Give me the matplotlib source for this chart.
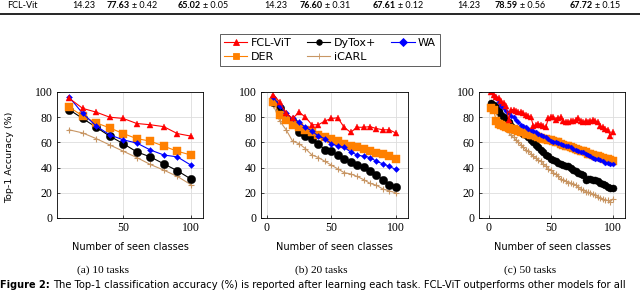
import numpy as np
import matplotlib
matplotlib.use("Agg")
import matplotlib.pyplot as plt
from matplotlib.lines import Line2D

# ---------------------------------------------------------------------------
# data
# ---------------------------------------------------------------------------
x10 = [10, 20, 30, 40, 50, 60, 70, 80, 90, 100]
fcl10 = [95, 87, 84, 80, 79, 75, 74, 72.5, 67, 65]
dytox10 = [86, 79, 72, 65, 59, 52.5, 48.5, 43, 37.5, 31]
wa10 = [96, 83, 73, 66, 62, 59.5, 54, 50, 48.5, 42]
der10 = [88, 81, 75.5, 71.5, 67, 63, 61, 57, 53, 50]
icarl10 = [70, 67.5, 63, 58, 53, 48, 42.5, 38, 33, 26.5]

x20 = [5, 10, 15, 20, 25, 30, 35, 40, 45, 50, 55, 60, 65, 70, 75, 80, 85, 90, 95, 100]
fcl20 = [98, 92, 83, 79, 84, 80, 74, 74, 77, 79, 79.5, 72, 68, 72, 72, 72.5, 71, 70, 70, 67.5]
dytox20 = [92, 87, 79, 76, 68, 65, 62.5, 59, 54, 53, 50, 46.5, 44.5, 42, 40.5, 37.5, 34, 30.5, 26.5, 25]
wa20 = [96, 89, 83, 79, 76, 72, 69, 65, 63, 59, 57, 56, 52.5, 50, 49, 48, 45, 43, 41, 38.5]
der20 = [92, 82, 78, 74, 72, 70, 68, 66, 64.5, 62.5, 61, 59, 57.5, 56.5, 55, 53, 51.5, 50.5, 49, 47]
icarl20 = [90, 77, 70, 61, 59, 55, 50, 48, 45, 42, 39, 36, 35, 33, 30.5, 27.5, 26, 23, 21.5, 20]

x50 = list(range(2, 101, 2))
fcl50 = [100, 98, 96, 95, 93, 91, 89, 78, 86, 86,
         85, 84, 84, 83, 82, 81, 80, 73, 74, 75,
         74, 73, 72, 79, 80, 80, 78, 79, 80, 77,
         76, 76, 77, 77, 78, 79, 77, 76, 77, 76,
         77, 78, 77, 76, 73, 72, 71, 70, 65, 68]
dytox50 = [91, 90, 88, 85, 82, 80, 78, 76, 73, 71,
           70, 69, 68, 67, 66, 64, 62, 60, 58, 56,
           54, 52, 50, 49, 47, 46, 45, 44, 43, 42,
           41.5, 41, 40, 38, 37, 36, 35, 34, 30.5, 31,
           31, 30.5, 30, 29, 28, 27, 26, 25, 24, 24]
wa50 = [100, 97, 95, 92, 89, 87, 85, 83, 81, 80,
        78, 76, 74, 73, 72, 71, 70, 69, 68, 67,
        66, 65, 64, 63, 61, 60.5, 60, 59.5, 59, 58,
        57.5, 57, 56, 55, 54, 53, 52.5, 52, 51, 50,
        49, 48, 47, 46.5, 46, 45, 44, 43.5, 43, 42.5]
der50 = [87, 86, 77, 75, 74, 73, 72, 71.5, 71, 70.5,
         70, 69, 68.5, 68, 67, 66.5, 66, 65.5, 65, 64,
         63.5, 63, 62.5, 62, 62, 61, 60.5, 60, 59, 58,
         57.5, 57, 56, 55.5, 55, 54, 53.5, 53, 52, 51,
         50.5, 50, 49.5, 49, 48.5, 48, 47, 46.5, 46, 45.5]
icarl50 = [91, 87, 84, 80, 77, 74, 71, 68, 66, 64,
           62, 60, 58, 56, 54, 53, 51, 49, 47.5, 46,
           45, 43, 41, 39, 38, 36, 35, 33, 31, 30,
           29, 28, 28, 27, 26, 25, 23, 22, 21, 20.5,
           20, 19, 18, 17, 16, 15, 14, 14, 13, 15]

subcaptions = ["(a) 10 tasks", "(b) 20 tasks", "(c) 50 tasks"]

# table row that sits above the figure (cropped)
row_name = "FCL-Vit"
row_mem = "14.23"
row_acc = [("77.63", "0.42"), ("65.02", "0.05"), ("76.60", "0.31"),
           ("67.61", "0.12"), ("78.59", "0.56"), ("67.72", "0.15")]

caption = ("The Top-1 classification accuracy (%) is reported after learning each task. "
           "FCL-ViT outperforms other models for all")

# ---------------------------------------------------------------------------
# styling
# ---------------------------------------------------------------------------
W, H = 640, 291
SANS = "DejaVu Sans"
SERIF = "Liberation Serif"

styles = {
    "FCL-ViT": dict(color="#ff0000", marker="^", ms=4.5),
    "DyTox+": dict(color="black", marker="o", ms=6),
    "WA": dict(color="#0000ff", marker="D", ms=3),
    "DER": dict(color="#ff8000", marker="s", ms=6),
    "iCARL": dict(color="#c89664", marker="+", ms=5),
}

panels = [
    (x10, {"FCL-ViT": fcl10, "DyTox+": dytox10, "WA": wa10, "DER": der10, "iCARL": icarl10}),
    (x20, {"FCL-ViT": fcl20, "DyTox+": dytox20, "WA": wa20, "DER": der20, "iCARL": icarl20}),
    (x50, {"FCL-ViT": fcl50, "DyTox+": dytox50, "WA": wa50, "DER": der50, "iCARL": icarl50}),
]
# pixel boxes (left, right) and x limits of each panel
boxes = [(57, 203), (261, 408), (479, 625)]
xlims = [(1, 109), (-4.5, 109.5), (-7.8, 109.8)]
xticks = [[50, 100], [0, 50, 100], [0, 50, 100]]
sub_x = [103, 321, 530]

fig = plt.figure(figsize=(W / 100, H / 100), dpi=100)

top, bot = 92, 218
draw_order = ["iCARL", "DyTox+", "DER", "WA", "FCL-ViT"]
for i, ((xs, series), (l, r)) in enumerate(zip(panels, boxes)):
    ax = fig.add_axes([l / W, 1 - bot / H, (r - l) / W, (bot - top) / H])
    for name in draw_order:
        st = styles[name]
        ms = st["ms"] if i < 2 else st["ms"] * 0.85
        ax.plot(xs, series[name], color=st["color"], marker=st["marker"],
                markersize=ms, linewidth=0.8,
                markeredgewidth=0.8 if st["marker"] == "+" else 0.3,
                markeredgecolor=st["color"], label=name)
    ax.set_xlim(*xlims[i])
    ax.set_ylim(0, 100)
    ax.set_xticks(xticks[i])
    ax.set_yticks([0, 20, 40, 60, 80, 100])
    ax.grid(True, color="#dddddd", linewidth=0.6)
    ax.set_axisbelow(True)
    ax.tick_params(direction="in", length=2.5, width=0.5, labelsize=8.5, pad=3)
    for lab in ax.get_xticklabels() + ax.get_yticklabels():
        lab.set_fontfamily(SERIF)
    for sp in ax.spines.values():
        sp.set_linewidth(0.6)
    fig.text((l + r) / 2 / W, 1 - 247 / H, "Number of seen classes",
             fontsize=7, family=SANS, ha="center", va="center")
    fig.text(sub_x[i] / W, 1 - 270 / H, subcaptions[i], fontsize=8.2,
             family=SERIF, ha="center", va="center")

fig.text(10 / W, 1 - 157 / H, "Top-1 Accuracy (%)", fontsize=6.8, family=SANS,
         rotation=90, ha="center", va="center")

# legend
order = ["FCL-ViT", "DER", "DyTox+", "iCARL", "WA"]
handles = [Line2D([], [], color=styles[n]["color"], marker=styles[n]["marker"],
                  markersize=4, linewidth=0.8, markeredgewidth=0.6) for n in order]
leg = fig.legend(handles, order, ncol=3, loc="center", bbox_to_anchor=(330 / W, 1 - 50 / H),
                 fancybox=False, edgecolor="#444444", framealpha=1,
                 prop={"family": SANS, "size": 8}, handlelength=2.1,
                 handletextpad=0.3, columnspacing=1.4, labelspacing=0.4,
                 borderpad=0.35)
leg.get_frame().set_linewidth(0.6)

# table row at the top (cut off in the crop)
ty = 1 - 6 / H
tfont = dict(fontsize=6.5, family="Lato", va="center")
fig.text(7 / W, ty, row_name, **tfont)
for xpx in [72, 264.5, 457]:
    fig.text(xpx / W, ty, row_mem, **tfont)
starts = [107, 178, 300, 372.5, 495, 570]
for xpx, (acc, err) in zip(starts, row_acc):
    fig.text(xpx / W, ty, acc, weight="bold", **tfont)
    fig.text((xpx + 25) / W, ty, "\u00b1 " + err, **tfont)
fig.add_artist(Line2D([0, 1], [1 - 14 / H, 1 - 14 / H], color="black", linewidth=1.2))

# figure caption (at the bottom edge)
cy = 1 - 288.5 / H
fig.text(0, cy, "Figure 2:", fontsize=7, family=SANS, weight="bold", va="baseline")
fig.text(53 / W, cy, caption, fontsize=7.2, family=SANS, va="baseline")

fig.savefig("out.png", dpi=100)
